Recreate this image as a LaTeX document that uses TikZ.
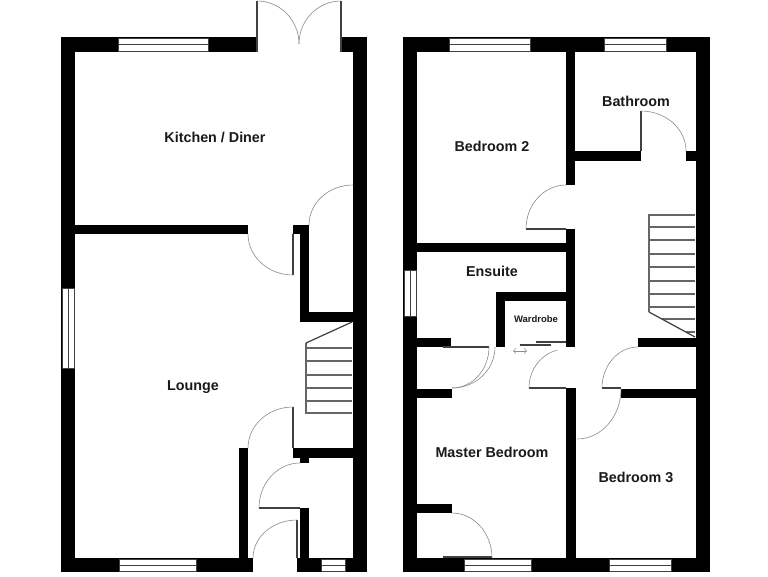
\documentclass[tikz,border=0pt]{standalone}
\usepackage{fontspec}
\setmainfont{Liberation Sans}

\tikzset{
	wall/.style={fill=black},
	pane/.style={fill=white, draw=black!75, line width=0.5pt},
	swing/.style={draw=black!45, line width=0.35pt},
	leaf/.style={draw=black!75, line width=0.7pt},
	tread/.style={draw=black!60, line width=0.6pt},
	roomlabel/.style={font=\bfseries\fontsize{8.15pt}{9pt}\selectfont, text=black!90},
}

\begin{document}
\begin{tikzpicture}[x=0.02cm,y=-0.02cm]

	\useasboundingbox (0,0) rectangle (768,576);

	% ground floor, outer walls
	\fill[wall] (61,37) rectangle (257,52);
	\fill[wall] (341,37) rectangle (367,52);
	\fill[wall] (61,37) rectangle (75,572);
	\fill[wall] (353,37) rectangle (367,572);
	\fill[wall] (61,558) rectangle (253,572);
	\fill[wall] (297,558) rectangle (367,572);

	% ground floor, inner walls
	\fill[wall] (75,225) rectangle (248,234);
	\fill[wall] (293,225) rectangle (309,234);
	\fill[wall] (300,234) rectangle (309,322);
	\fill[wall] (300,312) rectangle (353,322);
	\fill[wall] (293,448) rectangle (353,458);
	\fill[wall] (300,458) rectangle (309,463);
	\fill[wall] (239,448) rectangle (248,558);
	\fill[wall] (300,508) rectangle (309,558);

	% ground floor, windows
	\draw[pane] (118,38) rectangle (208,51);
	\draw[pane] (118,44.5) -- (208,44.5);
	\draw[pane] (62,288) rectangle (74,368);
	\draw[pane] (68,288) -- (68,368);
	\draw[pane] (119,559) rectangle (196,571);
	\draw[pane] (119,565) -- (196,565);
	\draw[pane] (321,559) rectangle (345,571);
	\draw[pane] (321,565) -- (345,565);

	% ground floor, doors
	\draw[leaf] (257,1) -- (257,52);
	\draw[leaf] (341,1) -- (341,52);
	\draw[swing] (257,1) arc[start angle=270,end angle=360,x radius=42,y radius=43];
	\draw[swing] (341,1) arc[start angle=270,end angle=180,x radius=42,y radius=43];
	\draw[leaf] (293,234) -- (293,275);
	\draw[swing] (248,234) arc[start angle=180,end angle=90,x radius=45,y radius=41];
	\draw[swing] (309,225) arc[start angle=180,end angle=270,x radius=44,y radius=40];
	\draw[leaf] (293,407) -- (293,448);
	\draw[swing] (293,407) arc[start angle=270,end angle=180,x radius=45,y radius=41];
	\draw[leaf] (259,508) -- (300,508);
	\draw[swing] (300,463) arc[start angle=270,end angle=180,x radius=41,y radius=45];
	\draw[leaf] (297,520) -- (297,558);
	\draw[swing] (297,520) arc[start angle=270,end angle=180,x radius=44,y radius=38];

	% ground floor, stairs
	\foreach \y in {348,361,375,388,401} {
		\draw[tread] (306,\y) -- (352,\y);
	}
	\draw[tread] (306,343) -- (306,413) -- (352,413);
	\draw[leaf] (306,343) -- (352,322);

	% first floor, outer walls
	\fill[wall] (403,37) rectangle (710,52);
	\fill[wall] (403,37) rectangle (417,572);
	\fill[wall] (696,37) rectangle (710,572);
	\fill[wall] (403,558) rectangle (710,572);

	% first floor, inner walls
	\fill[wall] (566,52) rectangle (575,185);
	\fill[wall] (575,151) rectangle (641,161);
	\fill[wall] (686,151) rectangle (696,161);
	\fill[wall] (417,243) rectangle (566,252);
	\fill[wall] (566,229) rectangle (575,347);
	\fill[wall] (496,292) rectangle (566,301);
	\fill[wall] (496,292) rectangle (505,347);
	\fill[wall] (417,338) rectangle (451,347);
	\fill[wall] (417,389) rectangle (452,398);
	\fill[wall] (417,504) rectangle (452,513);
	\fill[wall] (566,388) rectangle (576,558);
	\fill[wall] (621,389) rectangle (696,398);
	\fill[wall] (638,338) rectangle (696,347);

	% first floor, windows
	\draw[pane] (449,38) rectangle (530,51);
	\draw[pane] (449,44.5) -- (530,44.5);
	\draw[pane] (604,38) rectangle (666,51);
	\draw[pane] (604,44.5) -- (666,44.5);
	\draw[pane] (404,270) rectangle (416,316);
	\draw[pane] (410,270) -- (410,316);
	\draw[pane] (464,559) rectangle (531,571);
	\draw[pane] (464,565) -- (531,565);
	\draw[pane] (609,559) rectangle (671,571);
	\draw[pane] (609,565) -- (671,565);

	% first floor, doors
	\draw[leaf] (526,229) -- (566,229);
	\draw[swing] (526,229) arc[start angle=180,end angle=270,x radius=40,y radius=44];
	\draw[leaf] (641,111) -- (641,151);
	\draw[swing] (641,111) arc[start angle=270,end angle=360,x radius=45,y radius=40];
	\draw[leaf] (443,347) -- (489,347);
	\draw[swing] (489,347) arc[start angle=0,end angle=90,x radius=37,y radius=41];
	\draw[swing] (495,347) arc[start angle=0,end angle=90,x radius=43,y radius=41];
	\draw[leaf] (529,388) -- (566,388);
	\draw[swing] (529,388) arc[start angle=180,end angle=256,x radius=37,y radius=39];
	\draw[swing] (577,439) arc[start angle=90,end angle=0,x radius=44,y radius=50];
	\draw[leaf] (602,388) -- (621,388);
	\draw[swing] (602,388) arc[start angle=180,end angle=270,x radius=36,y radius=41];
	\draw[leaf] (443,557) -- (492,557);
	\draw[swing] (452,513) arc[start angle=270,end angle=360,x radius=40,y radius=45];

	% wardrobe
	\draw[leaf] (536,342) -- (566,342);
	\draw[leaf] (520,345) -- (551,345);
	\draw[swing,<->] (513,351) -- (527,351);

	% first floor, stairs
	\foreach \y in {227,240,254,267,281,294,307} {
		\draw[tread] (649,\y) -- (695,\y);
	}
	\draw[tread] (662,319) -- (695,319);
	\draw[tread] (686,332) -- (695,332);
	\draw[tread] (695,215) -- (649,215) -- (649,312);
	\draw[leaf] (649,312) -- (695,337);

	% rooms
	\node[roomlabel] (kitchen) at (215,137.5) {Kitchen / Diner};
	\node[roomlabel] (lounge) at (193,387.5) {Lounge};
	\node[roomlabel] (bedroomtwo) at (492,146.5) {Bedroom 2};
	\node[roomlabel] (bathroom) at (636,101.5) {Bathroom};
	\node[roomlabel] (ensuite) at (492,271.5) {Ensuite};
	\node[roomlabel,font=\bfseries\fontsize{5.4pt}{6pt}\selectfont] (wardrobe) at (536,319.5) {Wardrobe};
	\node[roomlabel] (master) at (492,452.5) {Master Bedroom};
	\node[roomlabel] (bedroomthree) at (636,477.5) {Bedroom 3};

\end{tikzpicture}
\end{document}
